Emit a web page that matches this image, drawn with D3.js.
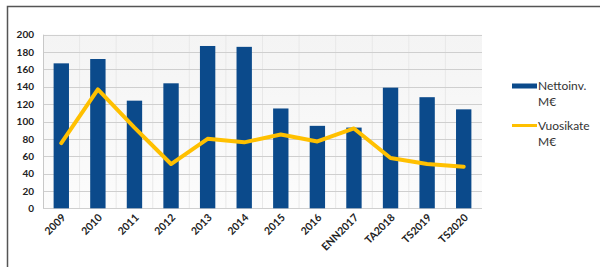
<!DOCTYPE html>
<html><head><meta charset="utf-8">
<script src="https://cdn.jsdelivr.net/npm/d3@7"></script>
<style>body{margin:0;background:#fff}svg{display:block}text{font-family:Lato,"Open Sans",sans-serif}</style>
</head><body><svg id="c" width="600" height="267"></svg>
<script>
const categories=["2009","2010","2011","2012","2013","2014","2015","2016","ENN2017","TA2018","TS2019","TS2020"];
const nettoinv=[167,172,124,144,187,186,115,95,93,139,128,114];
const vuosikate=[75,137,93,51,80,76,85,77,92,58,51,48];
const yTicks=[0,20,40,60,80,100,120,140,160,180,200];
const legendLabels=[["Nettoinv.","M€"],["Vuosikate","M€"]];

const svg=d3.select("#c");
const L=43,R=482,T=34.7,B=208.3;
const x=d3.scaleBand().domain(categories).range([L,R]).paddingInner(0.58).paddingOuter(0.29);
const y=d3.scaleLinear().domain([0,200]).range([B,T]);

// frame
svg.append("path").attr("d","M7.5,267 V6.5 H600").attr("fill","none").attr("stroke","#555").attr("stroke-width",1.5);

// plot background
const grad=svg.append("defs").append("linearGradient").attr("id","bg").attr("x1",0).attr("y1",0).attr("x2",0).attr("y2",1);
grad.append("stop").attr("offset","0").attr("stop-color","#f4f4f4");
grad.append("stop").attr("offset","1").attr("stop-color","#fcfcfc");
svg.append("rect").attr("x",L).attr("y",T).attr("width",R-L).attr("height",B-T).attr("fill","url(#bg)");

// vertical faint lines
svg.append("g").selectAll("line").data(categories.slice(1)).join("line")
  .attr("x1",d=>x(d)-x.step()*x.paddingInner()/2).attr("x2",d=>x(d)-x.step()*x.paddingInner()/2)
  .attr("y1",T).attr("y2",B).attr("stroke","#e8e8e8").attr("stroke-width",1);

// horizontal gridlines
svg.append("g").selectAll("line").data(yTicks).join("line")
  .attr("x1",L).attr("x2",R).attr("y1",d=>Math.round(y(d))+0.5).attr("y2",d=>Math.round(y(d))+0.5)
  .attr("stroke","#cfcfcf").attr("stroke-width",1);
svg.append("line").attr("x1",L+0.5).attr("x2",L+0.5).attr("y1",T).attr("y2",B).attr("stroke","#c8c8c8");

// y labels
const yAxis=d3.axisLeft(y).tickValues(yTicks).tickSize(0).tickPadding(9);
const ga=svg.append("g").attr("transform",`translate(${L},0)`).call(yAxis);
ga.select(".domain").remove();
ga.selectAll("text").attr("font-size",10).attr("font-weight","bold").attr("fill","#222").attr("font-family","Lato,'Open Sans',sans-serif");

// bars
svg.append("g").selectAll("rect").data(categories).join("rect")
  .attr("x",d=>x(d)).attr("width",x.bandwidth())
  .attr("y",(d,i)=>y(nettoinv[i])).attr("height",(d,i)=>y(0)-y(nettoinv[i]))
  .attr("fill","#0b4a8b");

// line
const line=d3.line().x((d,i)=>x(categories[i])+x.bandwidth()/2).y(d=>y(d));
svg.append("path").datum(vuosikate).attr("d",line).attr("fill","none")
  .attr("stroke","#ffc000").attr("stroke-width",4).attr("stroke-linejoin","round").attr("stroke-linecap","round");

// x labels
svg.append("g").selectAll("text").data(categories).join("text")
  .attr("transform",d=>`translate(${x(d)+x.bandwidth()/2+5},${B+10}) rotate(-45)`)
  .attr("text-anchor","end").attr("font-size",10.5).attr("font-weight","bold").attr("fill","#222")
  .text(d=>d);

// legend
const lg=svg.append("g");
lg.append("rect").attr("x",512).attr("y",83.5).attr("width",25).attr("height",5).attr("fill","#0b4a8b");
lg.append("line").attr("x1",512).attr("x2",537).attr("y1",125.5).attr("y2",125.5).attr("stroke","#ffc000").attr("stroke-width",3);
const ly=[86,126];
legendLabels.forEach((lab,k)=>{
  lab.forEach((t,j)=>{
    lg.append("text").attr("x",538).attr("y",ly[k]+j*16).attr("dy","0.35em")
      .attr("font-size",12).attr("fill","#333").text(t);
  });
});
</script></body></html>
